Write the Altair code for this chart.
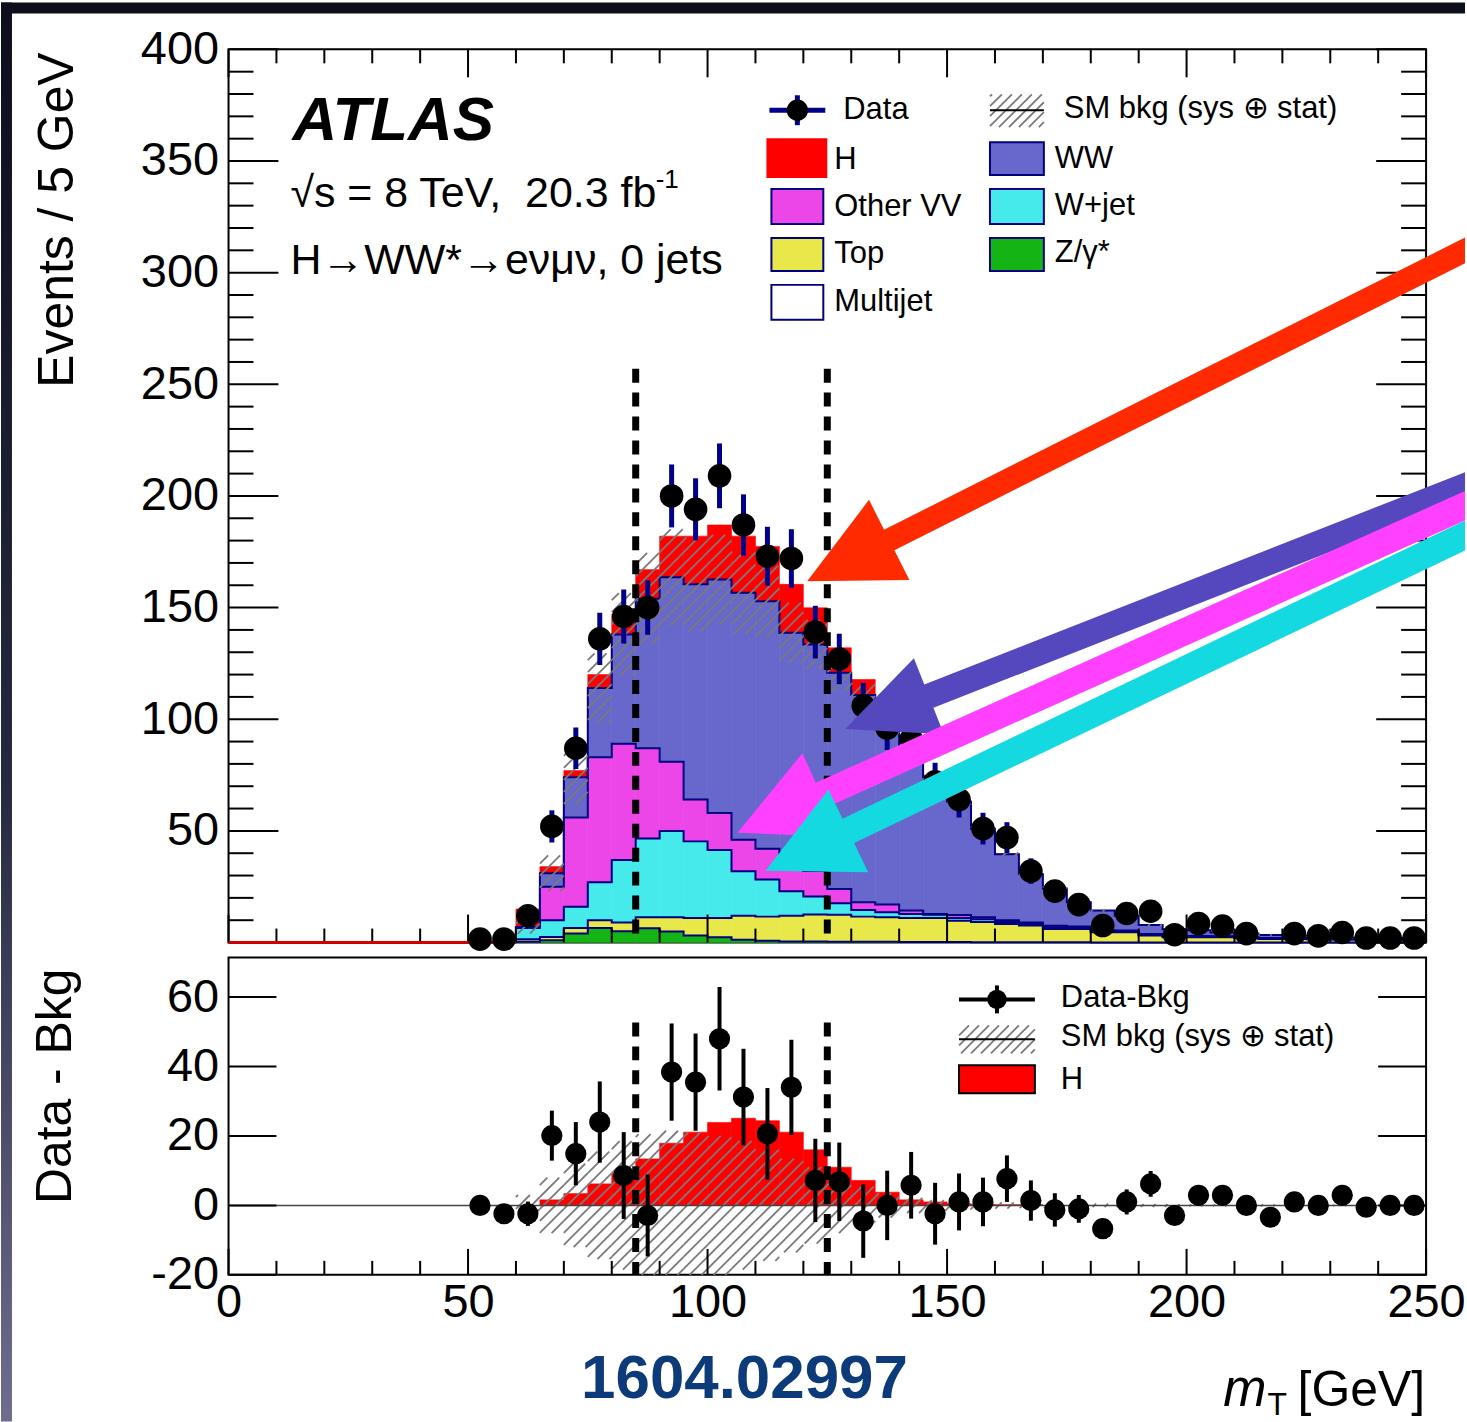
import math
import altair as alt
import pandas as pd

# ---------------------------------------------------------------- values
BIN_LO = [60 + 5 * i for i in range(38)]  # lower edges of the 5 GeV bins, 60 ... 245

Z_GAMMA = [0.3, 1.0, 4.0, 6.5, 5.0, 6.4, 4.9, 3.1, 2.4, 1.2, 0.8, 0.5, 0.5, 0.4, 0.3, 0.3, 0.2, 0.2, 0.2, 0.1,
           0.1, 0.1, 0.1, 0.1, 0, 0, 0, 0, 0, 0, 0, 0, 0, 0, 0, 0, 0, 0]
TOP = [1.2, 1.5, 2.5, 3.5, 4.0, 4.9, 6.4, 7.9, 8.6, 10.8, 10.8, 11.5, 12.0, 12.0, 11.3, 11.0, 10.8, 10.8, 9.6, 9.1,
       8.2, 7.5, 6.0, 6.0, 4.6, 4.6, 3.1, 2.4, 2.4, 2.4, 2.0, 1.6, 1.6, 1.5, 1.4, 1.3, 1.2, 1.1]
W_JET = [5.0, 7.5, 9.5, 17.0, 28.0, 35.3, 38.7, 34.3, 30.4, 19.9, 16.6, 11.0, 8.1, 5.2, 3.0, 2.3, 1.8, 1.4, 1.2, 1.2,
         0.9, 0.7, 0.7, 0.5, 0.4, 0.4, 0.3, 0.3, 0.2, 0.2, 0.2, 0.2, 0.2, 0.2, 0.1, 0.1, 0.1, 0.1]
OTHER_VV = [0.2, 15.0, 40.0, 56.0, 52.0, 40.4, 31.0, 18.7, 16.6, 14.1, 13.8, 14.0, 11.4, 6.4, 3.4, 3.4, 1.5, 0.4, 1.3, 0.9,
            0.8, 0.7, 0.7, 0.6, 0.5, 0.4, 0.4, 0.3, 0.3, 0.2, 0.2, 0.2, 0.2, 0.1, 0.2, 0.1, 0.1, 0.1]
WW_BKG = [0.3, 6.0, 18.0, 31.0, 49.0, 67.0, 82.6, 96.4, 104.6, 110.6, 110.8, 101.7, 101.5, 96.8, 92.8, 79.0, 71.2, 61.2,
          50.7, 39.7, 29.5, 21.6, 16.7, 10.8, 8.8, 6.6, 4.0, 3.0, 2.6, 1.7, 1.6, 1.4, 1.0, 1.2, 0.5, 0.6, 0.6, 0.7]
HIGGS = [8.0, 3.0, 3.0, 6.0, 9.0, 13.0, 18.4, 21.6, 24.4, 25.4, 24.6, 21.7, 16.4, 11.2, 7.0, 4.0, 2.0, 1.0, 0.5, 0.3,
         0.2, 0.2, 0.1, 0, 0, 0, 0, 0, 0, 0, 0, 0, 0, 0, 0, 0, 0, 0]
BAND_HALF = [3, 8, 12, 15.5, 18.5, 20.5, 21.5, 21, 20, 18.5, 16, 13.5, 11, 8, 5.5, 3.5, 2.2, 1.5, 1.2, 1.0,
             0.9, 0.8, 0.7, 0.6, 0.5, 0.5, 0.4, 0.4, 0.3, 0.3, 0.3, 0.3, 0.2, 0.2, 0.2, 0.2, 0.2, 0.2]

DATA_X = [52.5 + 5 * i for i in range(40)]
DATA_MAIN = [1.5, 1.5, 12, 52, 87, 136, 146, 150, 200, 194, 209, 187, 173, 172, 139, 127, 106, 96, 91, 72,
             64, 51, 47, 32, 23, 17, 7.6, 13, 14, 3.5, 8.5, 7.4, 4, 0, 4, 3, 4.5, 2, 2, 2]
DATA_MAIN_ERR = [1.2, 1.2, 3.5, 7.2, 9.3, 11.7, 12.1, 12.2, 14.1, 13.9, 14.5, 13.7, 13.2, 13.1, 11.8, 11.3, 10.3, 9.8,
                 9.5, 8.5, 8.0, 7.1, 6.9, 5.7, 4.8, 4.1, 2.8, 3.6, 3.7, 1.9, 2.9, 2.7, 2.0, 0, 2.0, 1.7, 2.1, 1.4, 1.4, 1.4]
DIFF = [0, -2.4, -2.4, 20.1, 14.9, 24.0, 8.6, -2.9, 38.4, 35.5, 48.0, 31.2, 20.6, 34.0, 7.2, 6.8, -4.5, 0, 5.8, -2.4,
        1, 1, 7.7, 1.4, -1.3, -1, -6.7, 1, 6.2, -2.9, 2.9, 2.9, 0, -3.4, 1, 0, 2.9, -0.5, 0, 0]
DIFF_ERR = [1.2, 1.2, 3.5, 7.2, 9.1, 11.7, 12.5, 11.8, 14.0, 14.0, 14.9, 13.9, 13.2, 13.7, 12.0, 11.3, 10.6, 10.0, 9.6,
            8.9, 8.2, 7.0, 6.7, 5.8, 4.8, 4.0, 2.8, 3.6, 3.7, 1.9, 2.9, 2.7, 2.0, 1.8, 2.0, 1.7, 2.1, 1.4, 1.4, 1.4]
HIGGS_LOWER = [0, 1.6, 3.4, 6.2, 9.1, 13.4, 17.9, 21.1, 23.9, 25.1, 24.4, 21.1, 16.0, 11.0, 7.2, 3.8, 1.6, 1.0, 0.5,
               0.3, 0.2, 0.2, 0, 0, 0, 0, 0, 0, 0, 0, 0, 0, 0, 0, 0, 0, 0, 0]

WINDOW = [85, 125]
WINDOW_TOP_MAIN = 257
WINDOW_TOP_LOW = 52.7

X_MAJOR = [0, 50, 100, 150, 200, 250]
X_MINOR = [v for v in range(0, 251, 10) if v % 50]
Y_MAIN_MAJOR = [0, 50, 100, 150, 200, 250, 300, 350, 400]
Y_MAIN_LABELS = [50, 100, 150, 200, 250, 300, 350, 400]
Y_MAIN_MINOR = [v for v in range(0, 401, 10) if v % 50]
Y_LOW_MAJOR = [-20, 0, 20, 40, 60]

COMPONENTS = ["Z/γ*", "Top", "W+jet", "Other VV", "WW", "H"]
COMP_VALUES = [Z_GAMMA, TOP, W_JET, OTHER_VV, WW_BKG, HIGGS]
COMP_COLORS = ["#14b414", "#e8e84a", "#47eaea", "#ec45e8", "#6767cc", "#ff0000"]

# annotation arrows: colour, tip (GeV, events), direction to tail (deg), head length, head half width, shaft half width
ARROWS = [
    ("#ff2a00", 120.8, 161.8, 26.7, 92, 45, 11.5),
    ("#5548bf", 128.75, 95.6, 21.45, 90, 41, 12.5),
    ("#ff40ff", 106.25, 49.2, 24.2, 92, 46, 13.5),
    ("#14d9e0", 112.1, 32.2, 25.6, 92, 46, 13.5),
]

# ---------------------------------------------------------------- geometry / style
W, H_MAIN, H_LOW = 1200, 895, 318
X_MAX = 250.0
Y_MAIN_MAX = 400.0
LOW_MIN, LOW_MAX = -20.0, 71.4
SX = W / X_MAX
SY_MAIN = H_MAIN / Y_MAIN_MAX
SY_LOW = H_LOW / (LOW_MAX - LOW_MIN)
ORIGIN_X, ORIGIN_Y = 228, 47
PAGE_W, PAGE_H = 1467, 1422
FONT = "Liberation Sans"
NAVY = "#000080"

XS = alt.Scale(domain=[0, X_MAX], nice=False, zero=False)
YS_MAIN = alt.Scale(domain=[0, Y_MAIN_MAX], nice=False, zero=False)
YS_LOW = alt.Scale(domain=[LOW_MIN, LOW_MAX], nice=False, zero=False)
ONE = pd.DataFrame({"k": [0]})

MAIN_YAXIS = alt.Axis(values=Y_MAIN_LABELS, ticks=False, tickSize=0, domain=False, grid=False, title=None,
                      labelFontSize=47, labelPadding=10, labelFont=FONT, labelColor="black", labelOverlap=False)
LOW_XAXIS = alt.Axis(values=X_MAJOR, ticks=False, tickSize=0, domain=False, grid=False, title=None,
                     labelFontSize=47, labelPadding=5, labelFont=FONT, labelColor="black",
                     labelFlush=False, labelOverlap=False)
LOW_YAXIS = alt.Axis(values=Y_LOW_MAJOR, ticks=False, tickSize=0, domain=False, grid=False, title=None,
                     labelFontSize=47, labelPadding=10, labelFont=FONT, labelColor="black", labelOverlap=False,
                     labelExpr="replace(datum.label, '\u2212', '-')")


def qx(f):
    return alt.X(f"{f}:Q", scale=XS, axis=None)


def qxl(f):
    return alt.X(f"{f}:Q", scale=XS, axis=LOW_XAXIS)


def qym(f):
    return alt.Y(f"{f}:Q", scale=YS_MAIN, axis=MAIN_YAXIS)


def qyl(f):
    return alt.Y(f"{f}:Q", scale=YS_LOW, axis=LOW_YAXIS)


def mx(px):
    return px / SX


def my(py):
    return (H_MAIN - py) / SY_MAIN


def ly(py):
    return LOW_MAX - py / SY_LOW


def hatch_px(rects, step=12.0):
    out = []
    for X0, X1, Yt, Yb in rects:
        if X1 - X0 <= 0 or Yb - Yt <= 0.3:
            continue
        U0, U1 = -Yb, -Yt
        kmin = math.floor((U0 - X1) / step)
        kmax = math.ceil((U1 - X0) / step)
        for k in range(kmin, kmax + 1):
            c = k * step
            xa = max(X0, U0 - c)
            xb = min(X1, U1 - c)
            if xb - xa > 0.4:
                out.append((xa, -(xa + c), xb, -(xb + c)))
    return out


def text(t, x, y, size, align="left", baseline="alphabetic", weight="normal", style="normal",
         color="black", angle=None):
    kw = dict(text=t, fontSize=size, align=align, baseline=baseline, fontWeight=weight,
              fontStyle=style, color=color, font=FONT)
    if angle is not None:
        kw["angle"] = angle
    return alt.Chart(ONE).mark_text(**kw).encode(x=alt.value(x), y=alt.value(y))


# ---------------------------------------------------------------- main panel
main_layers = []

# dark frame around the page (outside the plot area)
main_layers.append(alt.Chart(ONE).mark_rect(fill="#0c0e1c").encode(
    x=alt.value(-ORIGIN_X), x2=alt.value(PAGE_W - ORIGIN_X), y=alt.value(-ORIGIN_Y), y2=alt.value(-ORIGIN_Y + 11)))
grad = alt.Gradient(gradient="linear", x1=0, x2=0, y1=0, y2=1,
                    stops=[alt.GradientStop(color="#0c0e1c", offset=0),
                           alt.GradientStop(color="#262840", offset=0.55),
                           alt.GradientStop(color="#6e6d8e", offset=1)])
main_layers.append(alt.Chart(ONE).mark_rect(fill=grad).encode(
    x=alt.value(-ORIGIN_X), x2=alt.value(-ORIGIN_X + 11), y=alt.value(-ORIGIN_Y), y2=alt.value(PAGE_H - ORIGIN_Y)))

# stacked fills
fill_rows = []
cum = {n: [] for n in COMPONENTS}
for i, lo in enumerate(BIN_LO):
    base = 0.0
    for name, vals in zip(COMPONENTS, COMP_VALUES):
        v = vals[i]
        if v > 0:
            fill_rows.append({"comp": name, "lo": lo, "hi": lo + 5, "b": base, "t": base + v})
        base += v
        cum[name].append(base)
cscale = alt.Scale(domain=COMPONENTS, range=COMP_COLORS)
main_layers.append(alt.Chart(pd.DataFrame(fill_rows)).mark_rect(strokeWidth=0.6).encode(
    x=qx("lo"), x2="hi", y=qym("b"), y2="t",
    fill=alt.Fill("comp:N", scale=cscale, legend=None),
    stroke=alt.Stroke("comp:N", scale=cscale, legend=None)))

# navy step outlines of each background component
line_rows = []
for name in COMPONENTS[:-1]:
    tops = cum[name]
    line_rows.append({"comp": name, "i": 0, "x": BIN_LO[0], "y": 0})
    for i, lo in enumerate(BIN_LO):
        line_rows.append({"comp": name, "i": i + 1, "x": lo, "y": tops[i]})
    line_rows.append({"comp": name, "i": len(BIN_LO) + 1, "x": BIN_LO[-1] + 5, "y": tops[-1]})
main_layers.append(alt.Chart(pd.DataFrame(line_rows)).mark_line(
    interpolate="step-after", color=NAVY, strokeWidth=2).encode(
    x=qx("x"), y=qym("y"), detail="comp:N", order="i:Q"))

# hatched uncertainty band on the total background
bkg = cum["WW"]
rects = []
for i, lo in enumerate(BIN_LO):
    lo_v = max(bkg[i] - BAND_HALF[i], 0)
    hi_v = bkg[i] + BAND_HALF[i]
    rects.append((lo * SX, (lo + 5) * SX, H_MAIN - hi_v * SY_MAIN, H_MAIN - lo_v * SY_MAIN))
segs = hatch_px(rects)
hdf = pd.DataFrame([{"x": a / SX, "y": my(b), "x2": c / SX, "y2": my(d)} for a, b, c, d in segs])
main_layers.append(alt.Chart(hdf).mark_rule(color="#7a7a7a", strokeWidth=1.8).encode(
    x=qx("x"), y=qym("y"), x2="x2", y2="y2"))

# ticks (inside, on all four sides)
main_layers.append(alt.Chart(pd.DataFrame({"v": X_MAJOR})).mark_rule(color="black", strokeWidth=2).encode(
    x=qx("v"), y=alt.value(H_MAIN), y2=alt.value(H_MAIN - 28)))
main_layers.append(alt.Chart(pd.DataFrame({"v": X_MINOR})).mark_rule(color="black", strokeWidth=2).encode(
    x=qx("v"), y=alt.value(H_MAIN), y2=alt.value(H_MAIN - 14)))
main_layers.append(alt.Chart(pd.DataFrame({"v": X_MAJOR})).mark_rule(color="black", strokeWidth=2).encode(
    x=qx("v"), y=alt.value(0), y2=alt.value(28)))
main_layers.append(alt.Chart(pd.DataFrame({"v": X_MINOR})).mark_rule(color="black", strokeWidth=2).encode(
    x=qx("v"), y=alt.value(0), y2=alt.value(14)))
main_layers.append(alt.Chart(pd.DataFrame({"v": Y_MAIN_MAJOR})).mark_rule(color="black", strokeWidth=2).encode(
    y=qym("v"), x=alt.value(0), x2=alt.value(50)))
main_layers.append(alt.Chart(pd.DataFrame({"v": Y_MAIN_MINOR})).mark_rule(color="black", strokeWidth=2).encode(
    y=qym("v"), x=alt.value(0), x2=alt.value(25)))
main_layers.append(alt.Chart(pd.DataFrame({"v": Y_MAIN_MAJOR})).mark_rule(color="black", strokeWidth=2).encode(
    y=qym("v"), x=alt.value(W), x2=alt.value(W - 50)))
main_layers.append(alt.Chart(pd.DataFrame({"v": Y_MAIN_MINOR})).mark_rule(color="black", strokeWidth=2).encode(
    y=qym("v"), x=alt.value(W), x2=alt.value(W - 25)))

# empty-bin baseline (drawn above the axis ticks, as in the figure)
main_layers.append(alt.Chart(pd.DataFrame({"x": [0], "x2": [BIN_LO[0]], "y": [0]})).mark_rule(
    color="#d00000", strokeWidth=3).encode(x=qx("x"), x2="x2", y=qym("y")))

# signal-window dashed lines
main_layers.append(alt.Chart(pd.DataFrame({"x": WINDOW, "y": [WINDOW_TOP_MAIN] * 2, "y2": [0, 0]})).mark_rule(
    color="black", strokeWidth=7, strokeDash=[14, 10]).encode(x=qx("x"), y=qym("y"), y2="y2"))

# data
ddf = pd.DataFrame({"x": DATA_X, "y": DATA_MAIN, "e": DATA_MAIN_ERR})
ddf = ddf[ddf["y"] > 0].copy()
ddf["lo"] = ddf["y"] - ddf["e"]
ddf["hi"] = ddf["y"] + ddf["e"]
main_layers.append(alt.Chart(ddf).mark_rule(color="#00008b", strokeWidth=5).encode(
    x=qx("x"), y=qym("lo"), y2="hi"))
main_layers.append(alt.Chart(ddf).mark_circle(color="black", opacity=1, size=560).encode(
    x=qx("x"), y=qym("y")))

# legend (positions in plot pixels converted through the scales)
sw = [("H", 540, 599, 90, 128, "#ff0000", "#ff0000"),
      ("Other VV", 544, 596, 140, 175, "#ec45e8", NAVY),
      ("Top", 544, 596, 189, 222, "#e8e84a", NAVY),
      ("Multijet", 544, 596, 236, 271, "#ffffff", NAVY),
      ("WW", 763, 817, 93, 126, "#6767cc", NAVY),
      ("W+jet", 763, 817, 140, 175, "#47eaea", NAVY),
      ("Z/γ*", 763, 817, 189, 222, "#14b414", NAVY)]
sdf = pd.DataFrame([{"x": mx(a), "x2": mx(b), "y": my(c), "y2": my(d), "f": f, "s": s}
                    for _, a, b, c, d, f, s in sw])
main_layers.append(alt.Chart(sdf).mark_rect(strokeWidth=2).encode(
    x=qx("x"), x2="x2", y=qym("y"), y2="y2",
    fill=alt.Fill("f:N", scale=None), stroke=alt.Stroke("s:N", scale=None)))
lsegs = hatch_px([(763, 817, 45, 78)], step=10.0)
ldf = pd.DataFrame([{"x": mx(a), "y": my(b), "x2": mx(c), "y2": my(d)} for a, b, c, d in lsegs])
main_layers.append(alt.Chart(ldf).mark_rule(color="#7a7a7a", strokeWidth=1.8).encode(
    x=qx("x"), y=qym("y"), x2="x2", y2="y2"))
main_layers.append(alt.Chart(pd.DataFrame({"x": [mx(763)], "x2": [mx(817)], "y": [my(61)]})).mark_rule(
    color="black", strokeWidth=2).encode(x=qx("x"), x2="x2", y=qym("y")))
main_layers.append(alt.Chart(pd.DataFrame({"x": [mx(542)], "x2": [mx(598)], "y": [my(61)]})).mark_rule(
    color="#00008b", strokeWidth=5).encode(x=qx("x"), x2="x2", y=qym("y")))
main_layers.append(alt.Chart(pd.DataFrame({"x": [mx(570)], "y": [my(46)], "y2": [my(76)]})).mark_rule(
    color="#00008b", strokeWidth=5).encode(x=qx("x"), y=qym("y"), y2="y2"))
main_layers.append(alt.Chart(pd.DataFrame({"x": [mx(570)], "y": [my(61)]})).mark_circle(
    color="black", opacity=1, size=460).encode(x=qx("x"), y=qym("y")))

LEG = 31
for t, x, y in [("Data", 616, 61), ("SM bkg (sys ⊕ stat)", 837, 60), ("H", 607, 111), ("WW", 828, 110),
                ("Other VV", 607, 158), ("W+jet", 828, 157), ("Top", 607, 205), ("Z/γ*", 828, 204),
                ("Multijet", 607, 253)]:
    main_layers.append(text(t, x, y, LEG, baseline="middle"))

# labels
main_layers.append(text("ATLAS", 64, 91, 62, weight="bold", style="italic"))
main_layers.append(text("√s = 8 TeV,\u00a0 20.3 fb", 62, 158, 43))
main_layers.append(text("-1", 428, 139, 26))
main_layers.append(text("H→WW*→eνμν, 0 jets", 62, 225, 43))
main_layers.append(text("Events / 5 GeV", -171, 3, 50, align="right", baseline="middle", angle=270))

# annotation arrows
for color, gx, gy, ang, lh, wh, ws in ARROWS:
    tx, ty = gx * SX, H_MAIN - gy * SY_MAIN
    a = math.radians(ang)
    d = (math.cos(a), -math.sin(a))
    n = (math.sin(a), math.cos(a))
    cut = (PAGE_W - ORIGIN_X) - tx
    p2 = (lh * d[0] + wh * n[0], lh * d[1] + wh * n[1])
    p3 = (lh * d[0] + ws * n[0], lh * d[1] + ws * n[1])
    t3 = (cut - p3[0]) / d[0]
    p4 = (p3[0] + t3 * d[0], p3[1] + t3 * d[1])
    p6 = (lh * d[0] - ws * n[0], lh * d[1] - ws * n[1])
    t6 = (cut - p6[0]) / d[0]
    p5 = (p6[0] + t6 * d[0], p6[1] + t6 * d[1])
    p7 = (lh * d[0] - wh * n[0], lh * d[1] - wh * n[1])
    path = "M0,0" + "".join(f"L{p[0]:.2f},{p[1]:.2f}" for p in [p2, p3, p4, p5, p6, p7]) + "Z"
    main_layers.append(alt.Chart(pd.DataFrame({"x": [gx], "y": [gy]})).mark_point(
        shape=path, size=4, filled=True, color=color, opacity=1, strokeWidth=0).encode(
        x=qx("x"), y=qym("y")))

main = alt.layer(*main_layers).properties(width=W, height=H_MAIN)

# ---------------------------------------------------------------- lower panel (data - background)
low_layers = []
hl = pd.DataFrame([{"lo": lo, "hi": lo + 5, "b": 0, "t": v} for lo, v in zip(BIN_LO, HIGGS_LOWER) if v > 0])
low_layers.append(alt.Chart(hl).mark_rect(fill="#ff0000", stroke="#ff0000", strokeWidth=0.6).encode(
    x=qxl("lo"), x2="hi", y=qyl("b"), y2="t"))

rects = []
for i, lo in enumerate(BIN_LO):
    lo_v = max(-BAND_HALF[i], LOW_MIN)
    hi_v = BAND_HALF[i]
    rects.append((lo * SX, (lo + 5) * SX, (LOW_MAX - hi_v) * SY_LOW, (LOW_MAX - lo_v) * SY_LOW))
segs = hatch_px(rects)
hdf2 = pd.DataFrame([{"x": a / SX, "y": ly(b), "x2": c / SX, "y2": ly(d)} for a, b, c, d in segs])
low_layers.append(alt.Chart(hdf2).mark_rule(color="#7a7a7a", strokeWidth=1.8).encode(
    x=qxl("x"), y=qyl("y"), x2="x2", y2="y2"))

low_layers.append(alt.Chart(pd.DataFrame({"x": [0], "x2": [X_MAX], "y": [0]})).mark_rule(
    color="#444444", strokeWidth=1.5).encode(x=qxl("x"), x2="x2", y=qyl("y")))

low_layers.append(alt.Chart(pd.DataFrame({"v": X_MAJOR})).mark_rule(color="black", strokeWidth=2).encode(
    x=qxl("v"), y=alt.value(H_LOW), y2=alt.value(H_LOW - 26)))
low_layers.append(alt.Chart(pd.DataFrame({"v": X_MINOR})).mark_rule(color="black", strokeWidth=2).encode(
    x=qxl("v"), y=alt.value(H_LOW), y2=alt.value(H_LOW - 14)))
low_layers.append(alt.Chart(pd.DataFrame({"v": Y_LOW_MAJOR})).mark_rule(color="black", strokeWidth=2).encode(
    y=qyl("v"), x=alt.value(0), x2=alt.value(48)))
low_layers.append(alt.Chart(pd.DataFrame({"v": Y_LOW_MAJOR})).mark_rule(color="black", strokeWidth=2).encode(
    y=qyl("v"), x=alt.value(W), x2=alt.value(W - 48)))

low_layers.append(alt.Chart(pd.DataFrame({"x": WINDOW, "y": [WINDOW_TOP_LOW] * 2, "y2": [LOW_MIN] * 2})).mark_rule(
    color="black", strokeWidth=7, strokeDash=[14, 10]).encode(x=qxl("x"), y=qyl("y"), y2="y2"))

ldd = pd.DataFrame({"x": DATA_X, "y": DIFF, "e": DIFF_ERR})
ldd["lo"] = ldd["y"] - ldd["e"]
ldd["hi"] = ldd["y"] + ldd["e"]
low_layers.append(alt.Chart(ldd).mark_rule(color="black", strokeWidth=4).encode(
    x=qxl("x"), y=qyl("lo"), y2="hi"))
low_layers.append(alt.Chart(ldd).mark_circle(color="black", opacity=1, size=450).encode(
    x=qxl("x"), y=qyl("y")))

# lower legend
low_layers.append(alt.Chart(pd.DataFrame({"x": [mx(732)], "x2": [mx(808)], "y": [ly(42)]})).mark_rule(
    color="black", strokeWidth=4).encode(x=qxl("x"), x2="x2", y=qyl("y")))
low_layers.append(alt.Chart(pd.DataFrame({"x": [mx(770)], "y": [ly(28)], "y2": [ly(56)]})).mark_rule(
    color="black", strokeWidth=4).encode(x=qxl("x"), y=qyl("y"), y2="y2"))
low_layers.append(alt.Chart(pd.DataFrame({"x": [mx(770)], "y": [ly(42)]})).mark_circle(
    color="black", opacity=1, size=380).encode(x=qxl("x"), y=qyl("y")))
lsegs = hatch_px([(732, 808, 68, 96)], step=10.0)
ldf2 = pd.DataFrame([{"x": mx(a), "y": ly(b), "x2": mx(c), "y2": ly(d)} for a, b, c, d in lsegs])
low_layers.append(alt.Chart(ldf2).mark_rule(color="#7a7a7a", strokeWidth=1.8).encode(
    x=qxl("x"), y=qyl("y"), x2="x2", y2="y2"))
low_layers.append(alt.Chart(pd.DataFrame({"x": [mx(732)], "x2": [mx(808)], "y": [ly(82)]})).mark_rule(
    color="black", strokeWidth=2).encode(x=qxl("x"), x2="x2", y=qyl("y")))
low_layers.append(alt.Chart(pd.DataFrame({"x": [mx(732)], "x2": [mx(808)], "y": [ly(108)], "y2": [ly(136)]})).mark_rect(
    fill="#ff0000", stroke="black", strokeWidth=2).encode(x=qxl("x"), x2="x2", y=qyl("y"), y2="y2"))
for t, x, y in [("Data-Bkg", 834, 41), ("SM bkg (sys ⊕ stat)", 834, 80), ("H", 834, 123)]:
    low_layers.append(text(t, x, y, LEG, baseline="middle"))

low_layers.append(text("Data - Bkg", -173, 11, 50, align="right", baseline="middle", angle=270))
low_layers.append(text("1604.02997", 517, 441, 62, align="center", weight="bold", color="#0d3b7a"))
low_layers.append(text("m", 1040, 449, 52, align="right", style="italic"))
low_layers.append(text("T", 1041, 458, 32))
low_layers.append(text("[GeV]", 1199, 449, 50, align="right"))

low = alt.layer(*low_layers).properties(width=W, height=H_LOW)

chart = alt.vconcat(main, low, spacing=15, bounds="flush").properties(
    padding=0, background="white").configure_view(stroke="black", strokeWidth=2)

chart.save("out.html", embed_options={"renderer": "svg", "actions": False})
